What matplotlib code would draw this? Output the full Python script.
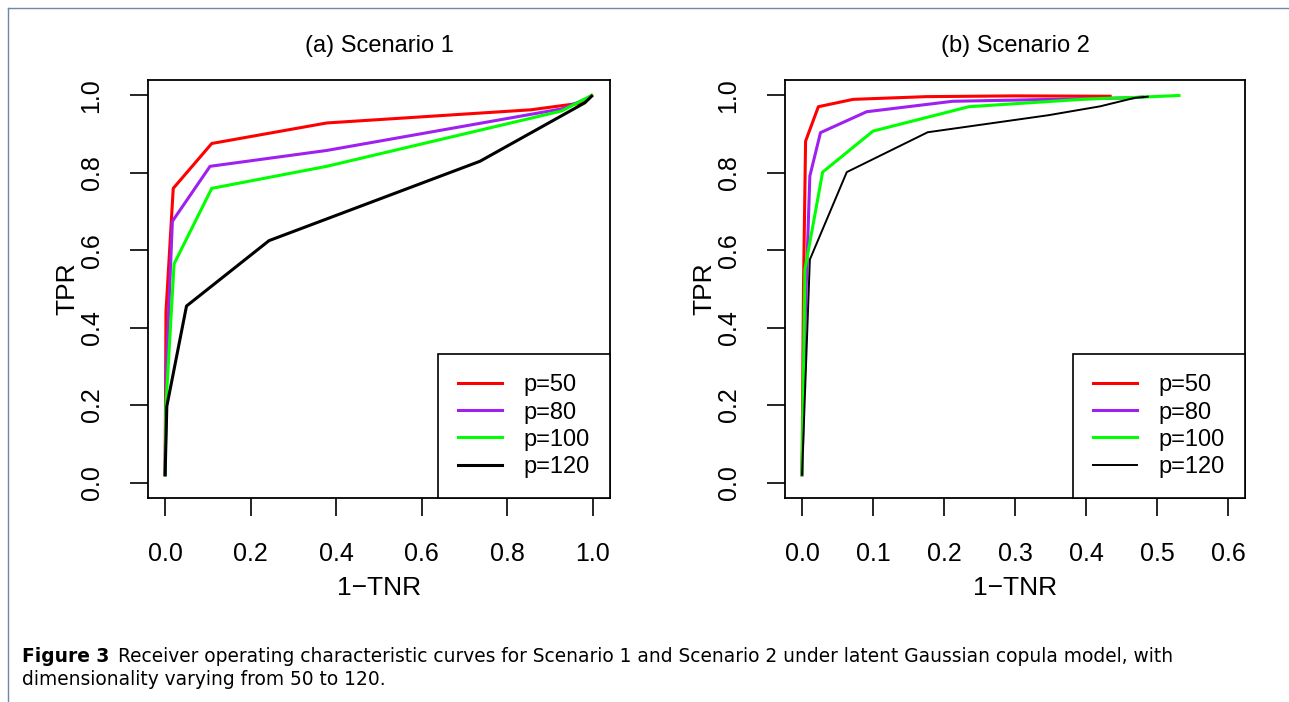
"""
ROC curves for the two copula scenarios, p = 50 .. 120.
"""

import matplotlib
matplotlib.use("Agg")
import matplotlib.pyplot as plt
from matplotlib.lines import Line2D

plt.rcParams['font.family'] = ['Liberation Sans', 'DejaVu Sans']

LABELS = ["p=50", "p=80", "p=100", "p=120"]
COLORS = ["#ff0000", "#a020f0", "#00ff00", "#000000"]

# Scenario 1 (1-TNR, TPR) per dimension
s1_x_50 = [0.0, 0.002, 0.019, 0.109, 0.378, 0.855, 0.97, 0.997]
s1_y_50 = [0.02, 0.44, 0.76, 0.876, 0.929, 0.963, 0.98, 1.0]
s1_x_80 = [0.0, 0.003, 0.017, 0.105, 0.378, 0.93, 0.99]
s1_y_80 = [0.02, 0.30, 0.675, 0.817, 0.858, 0.966, 0.994]
s1_x_100 = [0.0, 0.002, 0.021, 0.109, 0.378, 0.927, 0.997]
s1_y_100 = [0.02, 0.20, 0.565, 0.76, 0.817, 0.96, 1.0]
s1_x_120 = [0.0, 0.004, 0.05, 0.243, 0.736, 0.981, 0.997]
s1_y_120 = [0.02, 0.197, 0.456, 0.625, 0.83, 0.981, 0.998]

# Scenario 2
s2_x_50 = [0.0, 0.002, 0.005, 0.023, 0.072, 0.175, 0.30, 0.434]
s2_y_50 = [0.02, 0.50, 0.882, 0.971, 0.99, 0.997, 0.999, 0.998]
s2_x_80 = [0.0, 0.004, 0.011, 0.026, 0.091, 0.212, 0.466, 0.48]
s2_y_80 = [0.02, 0.40, 0.792, 0.904, 0.958, 0.985, 0.994, 0.996]
s2_x_100 = [0.0, 0.004, 0.029, 0.10, 0.235, 0.403, 0.47, 0.531]
s2_y_100 = [0.02, 0.55, 0.802, 0.908, 0.971, 0.991, 0.995, 1.0]
s2_x_120 = [0.0, 0.011, 0.063, 0.177, 0.347, 0.42, 0.469, 0.487]
s2_y_120 = [0.02, 0.576, 0.802, 0.905, 0.949, 0.972, 0.994, 0.997]

scen1 = [(s1_x_50, s1_y_50), (s1_x_80, s1_y_80), (s1_x_100, s1_y_100), (s1_x_120, s1_y_120)]
scen2 = [(s2_x_50, s2_y_50), (s2_x_80, s2_y_80), (s2_x_100, s2_y_100), (s2_x_120, s2_y_120)]

fig = plt.figure(figsize=(12.89, 7.02), dpi=100)
W, H = 1289.0, 702.0

def panel(rect, curves, title, xticks, xlim, widths):
    ax = fig.add_axes(rect)
    for (x, y), c, lab, lw in zip(curves, COLORS, LABELS, widths):
        ax.plot(x, y, "-", color=c, lw=lw, label=lab)
    ax.set_xlim(xlim)
    ax.set_ylim(-0.04, 1.04)
    ax.set_xticks(xticks)
    ax.set_xticklabels(["%.1f" % t for t in xticks])
    ax.set_yticks([0.0, 0.2, 0.4, 0.6, 0.8, 1.0])
    ax.set_yticklabels(["0.0", "0.2", "0.4", "0.6", "0.8", "1.0"],
                       rotation=90, va="center")
    ax.tick_params(labelsize=18, length=13, width=1.2, direction="out", pad=19)
    for s in ax.spines.values():
        s.set_linewidth(1.3)
    ax.set_xlabel("1\u2212TNR", fontsize=19, labelpad=7)
    ax.set_ylabel("TPR", fontsize=19, labelpad=0)
    ax.set_title(title, fontsize=17, pad=20)
    leg = ax.legend(loc="lower right", borderaxespad=0, fancybox=False,
                    framealpha=1, edgecolor="black", fontsize=17,
                    handlelength=1.9, handletextpad=0.9, borderpad=0.85,
                    labelspacing=0.22)
    leg.get_frame().set_linewidth(1.2)
    return ax

ax1 = panel([148 / W, 1 - 498 / H, 462 / W, 418 / H], scen1, "(a) Scenario 1",
            [0.0, 0.2, 0.4, 0.6, 0.8, 1.0], (-0.04, 1.04), [2.2, 2.2, 2.2, 2.2])
panel([785 / W, 1 - 498 / H, 460 / W, 418 / H], scen2, "(b) Scenario 2",
      [0.0, 0.1, 0.2, 0.3, 0.4, 0.5, 0.6], (-0.024, 0.624), [2.2, 2.2, 2.2, 1.4])

# page frame lines
fig.add_artist(Line2D([8 / W, 1.0], [1 - 8 / H, 1 - 8 / H], color="#6f86aa", lw=1))
fig.add_artist(Line2D([8 / W, 8 / W], [1 - 8 / H, 0.0], color="#6f86aa", lw=1))

# caption
cap = dict(fontsize=13.4, family=["DejaVu Sans"])
t = fig.text(22 / W, 1 - 662 / H, "Figure 3", fontweight="bold", va="baseline", **cap)
ax1.annotate("Receiver operating characteristic curves for Scenario 1 and Scenario 2 "
             "under latent Gaussian copula model, with",
             xy=(1, 0), xycoords=t, xytext=(6, 0), textcoords="offset points",
             va="bottom", annotation_clip=False, **cap)
fig.text(22 / W, 1 - 685 / H, "dimensionality varying from 50 to 120.",
         va="baseline", **cap)

fig.savefig("out.png", dpi=100)
